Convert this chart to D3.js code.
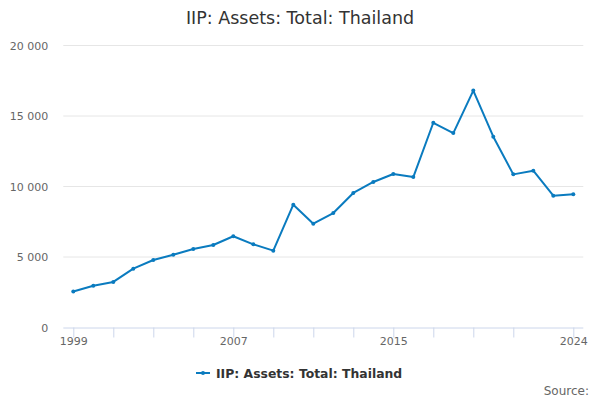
<!DOCTYPE html>
<html>
<head>
<meta charset="utf-8">
<script src="https://cdn.jsdelivr.net/npm/d3@7"></script>
<style>
  body { margin: 0; background: #fff; }
  svg { font-family: "DejaVu Sans", sans-serif; }
</style>
</head>
<body>
<svg class="chart"></svg>
<script>
// chart values
var years = d3.range(1999, 2025);
var assets = [2550, 2960, 3230, 4170, 4790, 5160, 5570, 5850, 6470, 5900, 5450,
              8710, 7360, 8120, 9540, 10320, 10890, 10670, 14520, 13790, 16800,
              13530, 10860, 11120, 9350, 9450];
var yTicks = [0, 5000, 10000, 15000, 20000];
var xTicks = [1999, 2001, 2003, 2005, 2007, 2009, 2011, 2013, 2015, 2017, 2019, 2021, 2024];
var xLabels = [1999, 2007, 2015, 2024];
var seriesName = "IIP: Assets: Total: Thailand";

function show() {
    'use strict';
    var W = 600, H = 400;
    var margin = {top: 45.5, right: 16.7, bottom: 72.5, left: 63.3},
        width = W - margin.left - margin.right,
        height = H - margin.top - margin.bottom;

    var svg = d3.select(".chart").attr("width", W).attr("height", H);

    var color = "#0a7bbf";

    var x = d3.scaleLinear().domain([1998.5, 2024.5]).range([0, width]);
    var y = d3.scaleLinear().domain([0, 20000]).range([height, 0]);

    var fmt = function(d) { return d3.format(",")(d).replace(/,/g, " "); };

    svg.append("text")
        .attr("x", W / 2).attr("y", 24)
        .attr("text-anchor", "middle")
        .attr("fill", "#333")
        .style("font-size", "17.5px")
        .text(seriesName);

    var g = svg.append("g")
        .attr("transform", "translate(" + margin.left + "," + margin.top + ")");

    // gridlines
    g.selectAll("line.grid").data(yTicks.filter(function(d) { return d > 0; })).enter()
        .append("line")
        .attr("class", "grid")
        .attr("x1", 0).attr("x2", width)
        .attr("y1", function(d) { return y(d); })
        .attr("y2", function(d) { return y(d); })
        .attr("stroke", "#e6e6e6");

    g.selectAll("text.ylab").data(yTicks).enter()
        .append("text")
        .attr("class", "ylab")
        .attr("x", -15)
        .attr("y", function(d) { return y(d) + 4; })
        .attr("text-anchor", "end")
        .attr("fill", "#666")
        .style("font-size", "11px")
        .text(fmt);

    // x axis
    var xAxis = d3.axisBottom(x)
        .tickValues(xTicks)
        .tickSize(10)
        .tickFormat(function(d) { return xLabels.indexOf(d) >= 0 ? d : ""; });

    var ax = g.append("g")
        .attr("transform", "translate(0," + height + ")")
        .call(xAxis);
    ax.select(".domain").attr("stroke", "#ccd6eb").attr("d", "M0,0.5H" + width);
    ax.selectAll(".tick line").attr("stroke", "#ccd6eb");
    ax.selectAll(".tick text")
        .attr("fill", "#666")
        .attr("y", 10)
        .style("font-size", "11px")
        .style("font-family", "DejaVu Sans, sans-serif");

    var line = d3.line()
        .x(function(d, i) { return x(years[i]); })
        .y(function(d) { return y(d); });

    g.append("path")
        .datum(assets)
        .attr("d", line)
        .attr("fill", "none")
        .attr("stroke", color)
        .attr("stroke-width", 2)
        .attr("stroke-linejoin", "round");

    g.selectAll("circle").data(assets).enter()
        .append("circle")
        .attr("cx", function(d, i) { return x(years[i]); })
        .attr("cy", function(d) { return y(d); })
        .attr("r", 2)
        .attr("fill", color);

    // legend
    var lg = svg.append("g").attr("transform", "translate(196,373)");
    lg.append("line").attr("x1", 0).attr("x2", 14).attr("y1", 0).attr("y2", 0)
        .attr("stroke", color).attr("stroke-width", 2);
    lg.append("circle").attr("cx", 7).attr("cy", 0).attr("r", 2).attr("fill", color);
    lg.append("text")
        .attr("x", 20).attr("y", 4.5)
        .attr("fill", "#333")
        .style("font-size", "12.4px")
        .style("font-weight", "bold")
        .text(seriesName);

    svg.append("text")
        .attr("x", 589).attr("y", 395)
        .attr("text-anchor", "end")
        .attr("fill", "#666")
        .style("font-size", "12px")
        .text("Source:");
}
show();
</script>
</body>
</html>
